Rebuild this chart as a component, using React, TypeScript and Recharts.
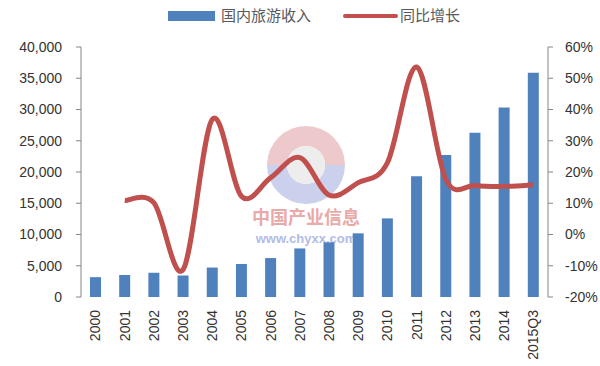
import React from 'react';
import { ComposedChart, Bar, Line, XAxis, YAxis } from 'recharts';

const years = ['2000', '2001', '2002', '2003', '2004', '2005', '2006', '2007', '2008', '2009', '2010', '2011', '2012', '2013', '2014', '2015Q3'];
const income = [3176, 3522, 3878, 3442, 4711, 5286, 6230, 7771, 8749, 10184, 12580, 19305, 22706, 26276, 30312, 35900];
const growth: (number | null)[] = [null, 10.9, 10.1, -11.2, 36.9, 12.2, 18.2, 24.6, 12.6, 16.6, 23.0, 53.6, 17.6, 15.7, 15.4, 15.9];
const leftTicks = [0, 5000, 10000, 15000, 20000, 25000, 30000, 35000, 40000];
const rightTicks = [-20, -10, 0, 10, 20, 30, 40, 50, 60];
const boundaryTicks = years.map((_, i) => i).concat([years.length]);

const data = years.map((y, i) => ({ year: y, income: income[i], growth: growth[i] }));

const axisColor = '#868686';
const tickFont = "'Liberation Sans', Arial, sans-serif";
const cjkFont = "'Noto Sans CJK SC', sans-serif";

// Excel-style smoothed line (Catmull-Rom through every point)
function excelSmooth(context: any) {
  let pts: number[][] = [];
  return {
    areaStart() {},
    areaEnd() {},
    lineStart() { pts = []; },
    point(x: number, y: number) { pts.push([+x, +y]); },
    lineEnd() {
      if (!pts.length) return;
      context.moveTo(pts[0][0], pts[0][1]);
      for (let i = 0; i < pts.length - 1; i++) {
        const p0 = pts[i - 1] || pts[i];
        const p1 = pts[i];
        const p2 = pts[i + 1];
        const p3 = pts[i + 2] || p2;
        context.bezierCurveTo(
          p1[0] + (p2[0] - p0[0]) / 6, p1[1] + (p2[1] - p0[1]) / 6,
          p2[0] - (p3[0] - p1[0]) / 6, p2[1] - (p3[1] - p1[1]) / 6,
          p2[0], p2[1],
        );
      }
    },
  };
}

const YearTick = (props: any) => {
  const { x, y, payload } = props;
  return (
    <text x={x} y={y} dy="0.35em" transform={`rotate(-90 ${x} ${y})`} textAnchor="end"
      fill="#333" fontSize={14} fontFamily={tickFont}>
      {payload.value}
    </text>
  );
};

const Watermark = () => (
  <svg width={600} height={366} style={{ position: 'absolute', left: 0, top: 0 }}>
    <g opacity={0.45}>
      <path d="M 267 165 A 39 39 0 0 1 345 165 L 325 165 A 19 19 0 0 0 287 165 Z" fill="#d98a8e" />
      <path d="M 267 165 A 39 39 0 0 0 345 165 L 325 165 A 19 19 0 0 1 287 165 Z" fill="#8e9bd6" />
      <circle cx={306} cy={165} r={19} fill="#d8d8d8" />
    </g>
    <text x={306} y={224} textAnchor="middle" fontSize={18} fontWeight="bold" fill="#eaa9a9" fontFamily={cjkFont}>中国产业信息</text>
    <text x={306} y={243} textAnchor="middle" fontSize={13} fontWeight="bold" fill="#b3bbe6" fontFamily="'Liberation Sans', Arial, sans-serif">www.chyxx.com</text>
  </svg>
);

export default function App() {
  return (
    <div style={{ position: 'absolute', left: 0, top: 0, width: 600, height: 366, background: '#fff', overflow: 'hidden' }}>
      <Watermark />
      {/* legend */}
      <div style={{ position: 'absolute', left: 168, top: 11, width: 47, height: 10, background: '#4F81BD' }} />
      <div style={{ position: 'absolute', left: 221, top: 4, fontFamily: cjkFont, fontSize: 15, color: '#595959', lineHeight: '22px' }}>国内旅游收入</div>
      <div style={{ position: 'absolute', left: 343, top: 14, width: 55, height: 4, borderRadius: 2, background: '#C0504D' }} />
      <div style={{ position: 'absolute', left: 400, top: 4, fontFamily: cjkFont, fontSize: 15, color: '#595959', lineHeight: '22px' }}>同比增长</div>

      <ComposedChart width={600} height={366} data={data}
        margin={{ top: 47, right: 0, left: 0, bottom: 0 }}
        style={{ position: 'absolute', left: 0, top: 0 }}>
        <XAxis xAxisId="grid" type="number" domain={[0, years.length]} ticks={boundaryTicks}
          allowDataOverflow tick={false} height={0} tickSize={5}
          axisLine={{ stroke: axisColor }} tickLine={{ stroke: axisColor }} />
        <XAxis xAxisId="cat" dataKey="year" interval={0} height={69} axisLine={false} tickLine={false}
          tickSize={0} tickMargin={13} tick={<YearTick />} />
        <YAxis yAxisId="left" domain={[0, 40000]} ticks={leftTicks} width={81} tickSize={5} tickMargin={14}
          axisLine={{ stroke: axisColor }} tickLine={{ stroke: axisColor }}
          tick={{ fill: '#333', fontSize: 14, fontFamily: tickFont }}
          tickFormatter={(v: number) => v.toLocaleString('en-US')} />
        <YAxis yAxisId="right" orientation="right" domain={[-20, 60]} ticks={rightTicks} width={52}
          tickSize={5} tickMargin={12}
          axisLine={{ stroke: axisColor }} tickLine={{ stroke: axisColor }}
          tick={{ fill: '#333', fontSize: 14, fontFamily: tickFont, textAnchor: 'start' }}
          tickFormatter={(v: number) => `${v}%`} />
        <Bar xAxisId="cat" yAxisId="left" dataKey="income" fill="#4F81BD" barSize={11} isAnimationActive={false} />
        <Line xAxisId="cat" yAxisId="right" dataKey="growth" type={excelSmooth as any} stroke="#C0504D"
          strokeWidth={5} dot={false} activeDot={false} connectNulls={false} isAnimationActive={false} />
      </ComposedChart>
    </div>
  );
}
